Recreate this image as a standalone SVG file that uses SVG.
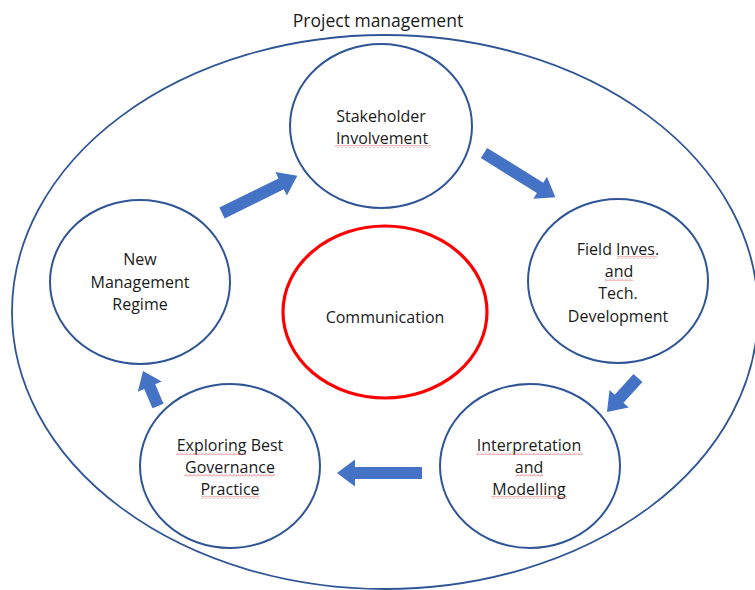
<svg xmlns="http://www.w3.org/2000/svg" width="755" height="590" viewBox="0 0 755 590">
  <defs>
    <style>
      .ring { fill: #ffffff; stroke: #2f5597; stroke-width: 2; }
      .core { fill: #ffffff; stroke: #ff0000; stroke-width: 3.2; }
      .frame { fill: none; stroke: #2f5597; stroke-width: 1.8; }
      .label { font-family: "Open Sans", "Liberation Sans", sans-serif; font-size: 16px; fill: #1a1a1a; text-anchor: middle; }
      .title { font-family: "Open Sans", "Liberation Sans", sans-serif; font-size: 17.5px; fill: #1a1a1a; text-anchor: middle; }
      .flow { fill: #4472c4; }
      .spell { fill: url(#squiggle); }
    </style>
    <!-- wavy underline used for flagged words -->
    <pattern id="squiggle" patternUnits="userSpaceOnUse" width="4" height="3">
      <path d="M0 2.5 L2 0.5 L4 2.5" fill="none" stroke="#e05555" stroke-width="0.8"/>
    </pattern>
  </defs>

  <rect width="755" height="590" fill="#ffffff"/>

  <!-- outer boundary -->
  <g id="project-management">
    <ellipse class="frame" cx="385" cy="312" rx="373" ry="277"/>
    <text class="title" x="378" y="27">Project management</text>
  </g>

  <!-- connectors: block arrows, drawn pointing right then rotated -->
  <g id="connectors">
    <path class="flow" transform="translate(222,213) rotate(-26.3)" d="M0 -6 L66 -6 L66 -13 L84 0 L66 13 L66 6 L0 6 Z"/>
    <path class="flow" transform="translate(484,153) rotate(31.8)" d="M0 -6 L66 -6 L66 -13 L84 0 L66 13 L66 6 L0 6 Z"/>
    <path class="flow" transform="translate(638,378) rotate(132.4)" d="M0 -6 L28 -6 L28 -13 L46 0 L28 13 L28 6 L0 6 Z"/>
    <path class="flow" transform="translate(422,473) rotate(180)" d="M0 -6 L67 -6 L67 -13.5 L85 0 L67 13.5 L67 6 L0 6 Z"/>
    <path class="flow" transform="translate(158,406) rotate(-113.2)" d="M0 -6 L21 -6 L21 -13 L38 0 L21 13 L21 6 L0 6 Z"/>
  </g>

  <g id="stakeholder-involvement">
    <ellipse class="ring" cx="381" cy="126" rx="91" ry="82"/>
    <text class="label" x="381" y="122">Stakeholder</text>
    <text class="label" x="382" y="144">Involvement</text>
    <rect class="spell" x="335" y="145" width="96" height="3"/>
  </g>

  <g id="field-investigation">
    <ellipse class="ring" cx="618" cy="281" rx="90" ry="82"/>
    <text class="label" x="618" y="255">Field Inves.</text>
    <text class="label" x="619" y="277">and</text>
    <text class="label" x="618" y="299">Tech.</text>
    <text class="label" x="618" y="322">Development</text>
    <rect class="spell" x="617" y="256" width="40" height="3"/>
    <rect class="spell" x="605" y="278" width="28" height="3"/>
  </g>

  <g id="interpretation-modelling">
    <ellipse class="ring" cx="530" cy="466" rx="90" ry="82"/>
    <text class="label" x="529" y="451">Interpretation</text>
    <text class="label" x="529" y="473">and</text>
    <text class="label" x="529" y="495">Modelling</text>
    <rect class="spell" x="476" y="452" width="107" height="3"/>
    <rect class="spell" x="515" y="474" width="28" height="3"/>
    <rect class="spell" x="491" y="496" width="76" height="3"/>
  </g>

  <g id="exploring-governance">
    <ellipse class="ring" cx="230" cy="466" rx="90" ry="82"/>
    <text class="label" x="230" y="451">Exploring Best</text>
    <text class="label" x="230" y="473">Governance</text>
    <text class="label" x="230" y="495">Practice</text>
    <rect class="spell" x="176" y="452" width="70" height="3"/>
    <rect class="spell" x="184" y="474" width="91" height="3"/>
    <rect class="spell" x="201" y="496" width="58" height="3"/>
  </g>

  <g id="new-management-regime">
    <ellipse class="ring" cx="140" cy="282" rx="90" ry="82"/>
    <text class="label" x="140" y="265">New</text>
    <text class="label" x="140" y="288">Management</text>
    <text class="label" x="140" y="310">Regime</text>
  </g>

  <g id="communication">
    <ellipse class="core" cx="385" cy="312" rx="102" ry="86"/>
    <text class="label" x="385" y="323">Communication</text>
  </g>
</svg>
